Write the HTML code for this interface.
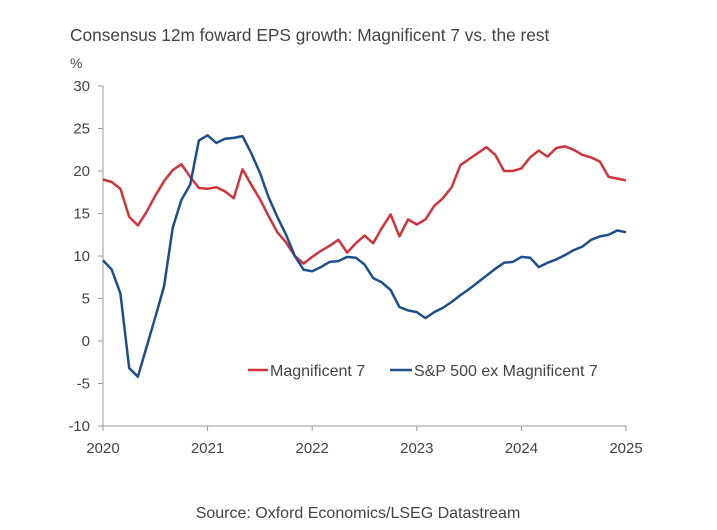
<!DOCTYPE html>
<html><head><meta charset="utf-8"><style>
body{margin:0;background:#fff;width:717px;height:530px;overflow:hidden;font-family:"Liberation Sans",sans-serif;}
svg{display:block}
</style></head><body>
<svg id="chart" width="717" height="530">
<text x="70" y="41" font-size="17.3" fill="#444">Consensus 12m foward EPS growth: Magnificent 7 vs. the rest</text>
<text x="70" y="68" font-size="14" fill="#444">%</text>
<g id="axes"></g>
<g id="series"></g>
<g>
<line x1="248" y1="370" x2="268" y2="370" stroke="#d13438" stroke-width="2.5"/>
<text x="270" y="376" font-size="16" fill="#444">Magnificent 7</text>
<line x1="390" y1="370" x2="412" y2="370" stroke="#1f4e8c" stroke-width="2.5"/>
<text x="414" y="376" font-size="16" fill="#444">S&amp;P 500 ex Magnificent 7</text>
</g>
<text x="358" y="518" font-size="16" fill="#444" text-anchor="middle">Source: Oxford Economics/LSEG Datastream</text>
</svg>
<script>
const yTicks=[30,25,20,15,10,5,0,-5,-10];
const xTickLabels=["2020","2021","2022","2023","2024","2025"];
const mag7=[19.0,18.7,17.9,14.6,13.6,15.2,17.1,18.8,20.1,20.8,19.3,18.0,17.9,18.1,17.6,16.8,20.2,18.4,16.7,14.7,12.8,11.6,10.0,9.1,9.9,10.6,11.2,11.9,10.4,11.5,12.4,11.5,13.3,14.9,12.3,14.3,13.7,14.3,15.9,16.8,18.1,20.7,21.4,22.1,22.8,21.9,20.0,20.0,20.3,21.6,22.4,21.7,22.7,22.9,22.5,21.9,21.6,21.1,19.3,19.1,18.9];
const spxEx=[9.5,8.4,5.6,-3.2,-4.2,-0.7,2.8,6.4,13.3,16.6,18.4,23.6,24.2,23.3,23.8,23.9,24.1,22.1,19.8,16.9,14.6,12.5,10.0,8.4,8.2,8.7,9.3,9.4,9.9,9.8,9.0,7.4,6.9,6.0,4.0,3.6,3.4,2.7,3.4,3.9,4.6,5.4,6.1,6.9,7.7,8.5,9.2,9.3,9.9,9.8,8.7,9.2,9.6,10.1,10.7,11.1,11.9,12.3,12.5,13.0,12.8];
const NS="http://www.w3.org/2000/svg";
const x0=103,x1=626,yTop=86,yBot=426,vMin=-10,vMax=30;
const xm=i=>x0+(x1-x0)*i/60;
const yv=v=>yBot-(v-vMin)/(vMax-vMin)*(yBot-yTop);
const axes=document.getElementById('axes');
function mk(tag,attrs,parent){const e=document.createElementNS(NS,tag);for(const k in attrs)e.setAttribute(k,attrs[k]);parent.appendChild(e);return e;}
const ya=mk('line',{x1:x0,y1:yTop,x2:x0,y2:yBot,stroke:'#999','stroke-width':1},axes);


yTicks.forEach(v=>{
  const t=mk('line',{x1:x0-5,y1:yv(v),x2:x0,y2:yv(v),stroke:'#999'},axes);
  
  
  const l=mk('text',{x:90,y:yv(v)+5,'font-size':15,fill:'#444','text-anchor':'end'},axes);
  l.textContent=v;
  
  
});
const xa=mk('line',{x1:x0,y1:yBot,x2:x1,y2:yBot,stroke:'#999'},axes);


xTickLabels.forEach((s,i)=>{
  const x=xm(i*12);
  const t=mk('line',{x1:x,y1:yBot,x2:x,y2:yBot+5,stroke:'#999'},axes);
  
  
  const l=mk('text',{x:x,y:yBot+27,'font-size':15,fill:'#444','text-anchor':'middle'},axes);
  l.textContent=s;
  
  
});
const g=document.getElementById('series');
function line(arr,color,name){
  const p=mk('path',{d:arr.map((v,i)=>(i?'L':'M')+xm(i).toFixed(1)+','+yv(v).toFixed(1)).join(''),fill:'none',stroke:color,'stroke-width':2.5,'stroke-linejoin':'round'},g);
  
  
}
line(mag7,'#d13438','mag7-line');
line(spxEx,'#1f4e8c','sp500-ex-mag7-line');
</script>
</body></html>
